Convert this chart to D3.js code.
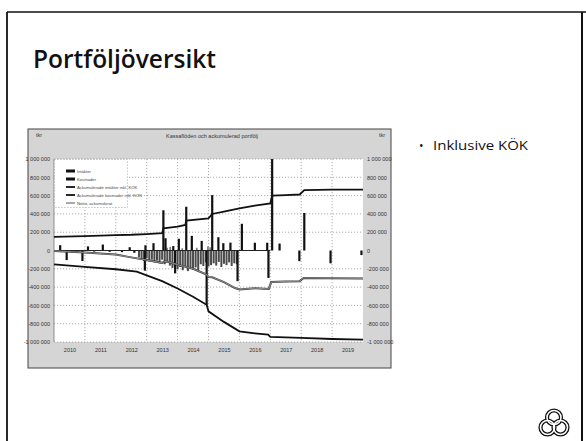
<!DOCTYPE html>
<html>
<head>
<meta charset="utf-8">
<script src="https://cdn.jsdelivr.net/npm/d3@7"></script>
<style>
  html, body { margin: 0; padding: 0; background: #fff; }
  svg { display: block; }
</style>
</head>
<body>
<script>
// ---- Data -------------------------------------------------------------
const yearLabels = ["2010","2011","2012","2013","2014","2015","2016","2017","2018","2019"];
const yTicks = [-1000000,-800000,-600000,-400000,-200000,0,200000,400000,600000,800000,1000000];

// single payments [decimal year, amount]
const inflowBars = [
  [2010.20,58000],[2011.10,45000],[2011.58,65000],[2012.45,36000],[2012.96,57000],
  [2013.22,80000],[2013.54,440000],[2013.61,134000],[2013.86,48000],[2014.04,128000],
  [2014.28,478000],[2014.46,160000],[2014.78,105000],[2015.12,605000],[2015.32,145000],
  [2015.48,80000],[2015.71,86000],[2016.08,292000],[2016.50,85000],[2016.90,85000],
  [2017.06,1000000],[2017.30,76000],[2018.10,410000]
];
const outflowBars = [
  [2010.41,-105000],[2010.60,-20000],[2010.75,-15000],[2010.92,-115000],[2011.30,-12000],
  [2011.80,-15000],[2012.20,-18000],[2012.60,-25000],[2012.94,-220000],[2013.92,-250000],
  [2014.94,-594000],[2015.94,-335000],[2016.94,-300000],[2017.94,-116000],[2018.95,-140000],
  [2019.95,-50000]
];
// monthly running costs, Oct 2012 onwards
const monthlyStart = 2012.75;
const monthlyCosts = [
  -75000,-95000,-115000,-85000,-120000,-100000,-130000,-110000,-140000,-100000,-150000,-130000,
  -165000,-190000,-145000,-205000,-180000,-215000,-170000,-225000,-195000,-210000,-185000,-220000,
  -150000,-170000,-130000,-175000,-160000,-140000,-165000,-125000,-180000,-145000,-160000,-130000,
  -170000,-140000,-150000
];
const smallInflows = [
  [2013.66,30000],[2013.76,40000],[2014.15,25000],[2014.62,30000],[2014.98,45000],[2015.05,35000]
];

// accumulated series [decimal year, amount]
const inflowCum = [
  [2010.0,150000],[2011.0,158000],[2012.0,168000],[2012.5,172000],[2013.0,180000],[2013.5,190000],
  [2013.54,243000],[2014.0,262000],[2014.25,280000],[2014.28,326000],[2015.0,351000],[2015.12,399000],
  [2015.5,425000],[2016.0,460000],[2016.5,490000],[2017.0,514000],[2017.06,600000],[2017.5,605000],
  [2017.95,612000],[2018.1,660000],[2019.0,665000],[2020.0,665000]
];
const outflowCum = [
  [2010.0,-152000],[2011.0,-178000],[2012.0,-205000],[2012.68,-232000],[2013.0,-272000],
  [2013.5,-335000],[2014.0,-415000],[2014.5,-505000],[2014.94,-594000],[2015.0,-665000],
  [2015.5,-780000],[2016.0,-884000],[2016.5,-905000],[2016.93,-920000],[2017.0,-945000],
  [2018.0,-956000],[2019.0,-967000],[2020.0,-975000]
];
const netCum = [
  [2010.0,-5000],[2011.0,-22000],[2012.0,-45000],[2012.5,-75000],[2013.0,-105000],[2013.5,-135000],
  [2013.58,-118000],[2013.75,-128000],[2014.0,-155000],[2014.5,-200000],[2014.94,-262000],
  [2015.0,-290000],[2015.12,-292000],[2015.5,-345000],[2015.86,-410000],[2016.0,-425000],
  [2016.5,-412000],[2016.95,-420000],[2017.03,-345000],[2017.5,-338000],[2017.95,-335000],
  [2018.08,-300000],[2019.0,-302000],[2020.0,-305000]
];

const legendItems = [
  {label: "Intäkter", kind: "bar"},
  {label: "Kostnader", kind: "bar"},
  {label: "Ackumulerade intäkter inkl. KÖK", kind: "line"},
  {label: "Ackumulerade kostnader inkl. KÖK", kind: "line"},
  {label: "Netto, ackumulerat", kind: "thin"}
];

// ---- Slide --------------------------------------------------------------
const W = 586, H = 441;
const svg = d3.select("body").append("svg").attr("width", W).attr("height", H);

svg.append("rect").attr("width", W).attr("height", H).attr("fill", "#fff");
// slide frame
svg.append("line").attr("x1", 7).attr("x2", 586).attr("y1", 12).attr("y2", 12)
  .attr("stroke", "#111").attr("stroke-width", 1.6);
svg.append("line").attr("x1", 7).attr("x2", 7).attr("y1", 12).attr("y2", H)
  .attr("stroke", "#111").attr("stroke-width", 1.8);
svg.append("line").attr("x1", 582).attr("x2", 582).attr("y1", 12).attr("y2", H)
  .attr("stroke", "#111").attr("stroke-width", 2);

svg.append("text").attr("x", 33).attr("y", 68)
  .attr("font-family", "'Open Sans', sans-serif").attr("font-weight", 600)
  .attr("font-size", 25).attr("fill", "#111")
  .attr("textLength", 183).attr("lengthAdjust", "spacingAndGlyphs")
  .text("Portföljöversikt");

svg.append("text").attr("x", 419).attr("y", 150)
  .attr("font-family", "'Open Sans', sans-serif").attr("font-size", 12).attr("fill", "#111")
  .text("•");
svg.append("text").attr("x", 433).attr("y", 150)
  .attr("font-family", "'Open Sans', sans-serif").attr("font-size", 13).attr("fill", "#111")
  .attr("textLength", 95).attr("lengthAdjust", "spacingAndGlyphs")
  .text("Inklusive KÖK");

// three-ring logo
const logo = svg.append("g").attr("transform", "translate(554,423)");
const rings = [[0,-5.5],[-6.5,4.5],[6.5,4.5]];
rings.forEach(([cx, cy]) => {
  logo.append("circle").attr("cx", cx).attr("cy", cy).attr("r", 7)
    .attr("fill", "none").attr("stroke", "#111").attr("stroke-width", 4.2);
});
rings.forEach(([cx, cy]) => {
  logo.append("circle").attr("cx", cx).attr("cy", cy).attr("r", 7)
    .attr("fill", "none").attr("stroke", "#fff").attr("stroke-width", 1.6);
});

// ---- Chart ------------------------------------------------------------
const frame = {x0: 28, x1: 391, y0: 129, y1: 368};
const plot = {x0: 54, x1: 363, y0: 159, y1: 342};

const chart = svg.append("g");
chart.append("rect").attr("x", frame.x0).attr("y", frame.y0)
  .attr("width", frame.x1 - frame.x0).attr("height", frame.y1 - frame.y0)
  .attr("fill", "#d5d5d5").attr("stroke", "#444").attr("stroke-width", 1);
chart.append("rect").attr("x", plot.x0).attr("y", plot.y0)
  .attr("width", plot.x1 - plot.x0).attr("height", plot.y1 - plot.y0)
  .attr("fill", "#fff");

const x = d3.scaleLinear().domain([2010, 2020]).range([plot.x0, plot.x1]);
const y = d3.scaleLinear().domain([-1000000, 1000000]).range([plot.y1, plot.y0]);

const fmt = v => {
  const s = d3.format(",")(Math.abs(v)).replace(/,/g, " ");
  return (v < 0 ? "-" : "") + s;
};

// grid
const grid = chart.append("g").attr("stroke", "#8a8a8a").attr("stroke-width", 0.7)
  .attr("stroke-dasharray", "1.2,1.8");
d3.range(2011, 2020).forEach(t => {
  grid.append("line").attr("x1", x(t)).attr("x2", x(t)).attr("y1", plot.y0).attr("y2", plot.y1);
});
yTicks.filter(v => v !== 0).forEach(v => {
  grid.append("line").attr("x1", plot.x0).attr("x2", plot.x1).attr("y1", y(v)).attr("y2", y(v));
});
chart.append("line").attr("x1", plot.x0).attr("x2", plot.x0).attr("y1", plot.y0).attr("y2", plot.y1)
  .attr("stroke", "#777").attr("stroke-width", 0.8);

// axes
const axisFont = g => g.selectAll("text")
  .attr("font-family", "'Liberation Sans', Arial, sans-serif")
  .attr("font-size", 5.5).attr("fill", "#333");
const yl = chart.append("g").attr("transform", `translate(${plot.x0 - 2},0)`)
  .call(d3.axisLeft(y).tickValues(yTicks).tickSize(0).tickPadding(2).tickFormat(fmt));
yl.select(".domain").remove(); yl.call(axisFont);
const yr = chart.append("g").attr("transform", `translate(${plot.x1 + 2},0)`)
  .call(d3.axisRight(y).tickValues(yTicks).tickSize(0).tickPadding(2).tickFormat(fmt));
yr.select(".domain").remove(); yr.call(axisFont);
const xa = chart.append("g").attr("transform", `translate(0,${plot.y1 + 4})`)
  .call(d3.axisBottom(x).tickValues(yearLabels.map(l => +l + 0.5)).tickSize(0).tickPadding(2)
    .tickFormat((d, i) => yearLabels[i]));
xa.select(".domain").remove(); xa.call(axisFont);

chart.append("text").attr("x", 36).attr("y", 137)
  .attr("font-family", "'Liberation Sans', Arial, sans-serif").attr("font-size", 5.5).attr("fill", "#333")
  .text("tkr");
chart.append("text").attr("x", 379).attr("y", 137)
  .attr("font-family", "'Liberation Sans', Arial, sans-serif").attr("font-size", 5.5).attr("fill", "#333")
  .text("tkr");
chart.append("text").attr("x", 212).attr("y", 138).attr("text-anchor", "middle")
  .attr("font-family", "'Liberation Sans', Arial, sans-serif").attr("font-size", 5.5).attr("fill", "#333")
  .attr("textLength", 92).attr("lengthAdjust", "spacingAndGlyphs")
  .text("Kassaflöden och ackumulerad portfölj");

// bars
const bars = chart.append("g");
const bw = 2.2;
bars.selectAll(".mc").data(monthlyCosts).join("rect")
  .attr("x", (d, i) => x(monthlyStart + i / 12) - 1).attr("width", 2)
  .attr("y", y(0)).attr("height", d => y(d) - y(0))
  .attr("fill", "#4a4a4a");
bars.selectAll(".si").data(smallInflows).join("rect")
  .attr("x", d => x(d[0]) - 0.8).attr("width", 1.6)
  .attr("y", d => y(d[1])).attr("height", d => y(0) - y(d[1]))
  .attr("fill", "#777");
bars.selectAll(".ib").data(inflowBars).join("rect")
  .attr("x", d => x(d[0]) - bw / 2).attr("width", bw)
  .attr("y", d => y(d[1])).attr("height", d => y(0) - y(d[1]))
  .attr("fill", "#111");
bars.selectAll(".ob").data(outflowBars).join("rect")
  .attr("x", d => x(d[0]) - bw / 2).attr("width", bw)
  .attr("y", y(0)).attr("height", d => y(d[1]) - y(0))
  .attr("fill", "#111");

// zero line
chart.append("line").attr("x1", plot.x0).attr("x2", x(2017.0)).attr("y1", y(0)).attr("y2", y(0))
  .attr("stroke", "#222").attr("stroke-width", 1);

// lines
const line = d3.line().x(d => x(d[0])).y(d => y(d[1]));
chart.append("path").datum(netCum).attr("d", line)
  .attr("fill", "none").attr("stroke", "#3a3a3a").attr("stroke-width", 2);
chart.append("path").datum(netCum).attr("d", line)
  .attr("fill", "none").attr("stroke", "#b5b5b5").attr("stroke-width", 0.7);
chart.append("path").datum(inflowCum).attr("d", line)
  .attr("fill", "none").attr("stroke", "#111").attr("stroke-width", 1.8);
chart.append("path").datum(outflowCum).attr("d", line)
  .attr("fill", "none").attr("stroke", "#111").attr("stroke-width", 1.8);

// legend
const lg = chart.append("g");
lg.append("rect").attr("x", plot.x0 + 0.5).attr("y", plot.y0 + 0.5).attr("width", 73).attr("height", 48)
  .attr("fill", "#fff").attr("stroke", "#888").attr("stroke-width", 0.6).attr("stroke-dasharray", "1.2,1.8");
legendItems.forEach((it, i) => {
  const yy = 171 + i * 8;
  if (it.kind === "bar") {
    lg.append("rect").attr("x", 66).attr("y", yy - 1.5).attr("width", 9).attr("height", 3).attr("fill", "#111");
  } else if (it.kind === "line") {
    lg.append("line").attr("x1", 66).attr("x2", 75).attr("y1", yy).attr("y2", yy)
      .attr("stroke", "#111").attr("stroke-width", 1.8);
  } else {
    lg.append("line").attr("x1", 66).attr("x2", 75).attr("y1", yy).attr("y2", yy)
      .attr("stroke", "#555").attr("stroke-width", 1);
  }
  lg.append("text").attr("x", 77).attr("y", yy + 1.5)
    .attr("font-family", "'Liberation Sans', Arial, sans-serif").attr("font-size", 4.2).attr("fill", "#444")
    .text(it.label);
});
</script>
</body>
</html>
